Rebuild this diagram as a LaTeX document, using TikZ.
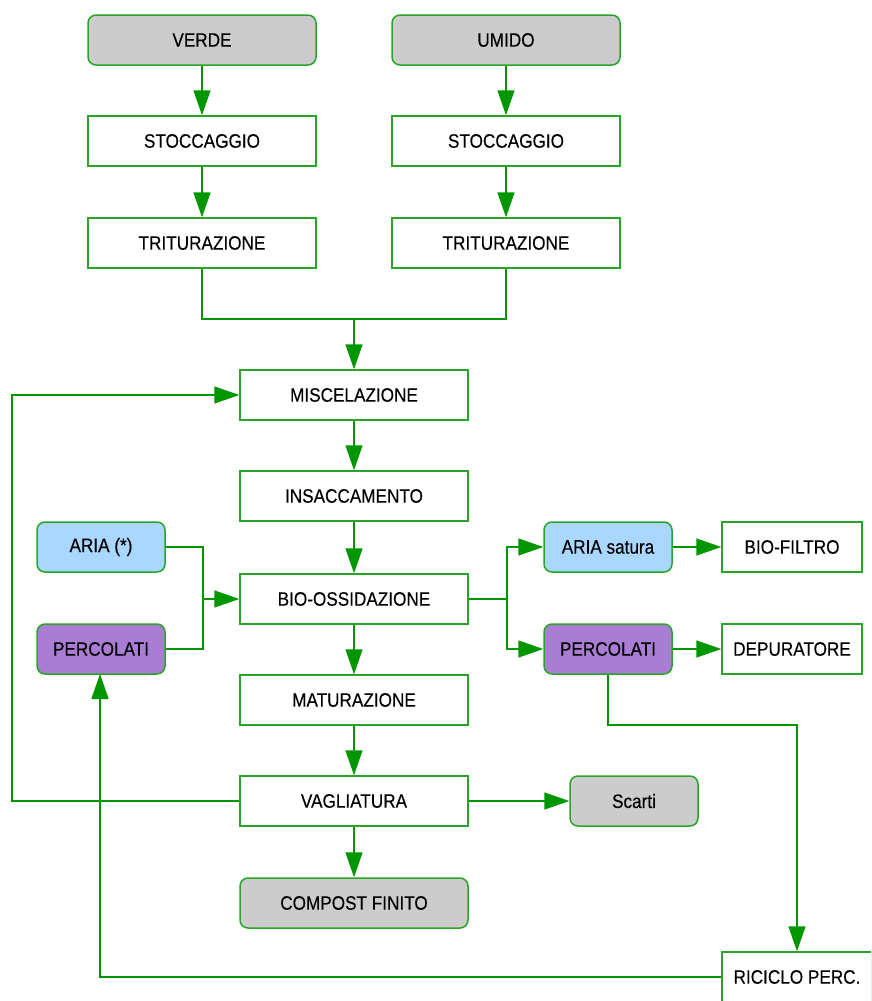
\documentclass[tikz,border=0pt]{standalone}
\usepackage{fontspec}
\setmainfont{Liberation Sans}
\newfontfamily\lblfont[FakeStretch=0.88,FakeBold=0.25]{Liberation Sans}
\usetikzlibrary{arrows.meta}
\definecolor{lnk}{RGB}{0,150,0}
\definecolor{brd}{RGB}{40,165,40}
\definecolor{grayf}{RGB}{204,204,204}
\definecolor{bluef}{RGB}{170,215,255}
\definecolor{purpf}{RGB}{170,125,212}
\tikzset{
  box/.style={draw=brd, line width=1.5pt, fill=white, minimum height=50pt, inner sep=0pt,
    font=\lblfont\fontsize{19.5}{21}\selectfont, text=black},
  wide/.style={box, minimum width=228pt},
  small/.style={box, minimum width=128pt},
  mid/.style={box, minimum width=140pt},
  rbox/.style={rounded corners=8pt},
  gbox/.style={rbox, fill=grayf},
  bbox/.style={rbox, fill=bluef},
  pbox/.style={rbox, fill=purpf},
  conn/.style={draw=lnk, line width=1.5pt},
  arr/.style={conn, -{Triangle[length=25pt,width=17pt]}},
}
\begin{document}
\begin{tikzpicture}[x=1pt,y=-1pt]
\useasboundingbox (0,0) rectangle (871,1001);
\clip (0,0) rectangle (871,1001);
\node[wide,gbox] (verde) at (202,40) {VERDE};
\node[wide,gbox] (umido) at (506,40) {UMIDO};
\node[wide] (stl) at (202,141) {STOCCAGGIO};
\node[wide] (str) at (506,141) {STOCCAGGIO};
\node[wide] (trl) at (202,243) {TRITURAZIONE};
\node[wide] (trr) at (506,243) {TRITURAZIONE};
\node[wide] (misc) at (354,395) {MISCELAZIONE};
\node[wide] (insa) at (354,496) {INSACCAMENTO};
\node[wide] (bio) at (354,599) {BIO-OSSIDAZIONE};
\node[wide] (matu) at (354,700) {MATURAZIONE};
\node[wide] (vagl) at (354,801) {VAGLIATURA};
\node[wide,gbox] (comp) at (354,903) {COMPOST FINITO};
\node[small,bbox] (aria) at (101,547) {ARIA (*)};
\node[small,pbox] (percl) at (101,649) {PERCOLATI};
\node[small,bbox] (arias) at (608,547) {ARIA satura};
\node[small,pbox] (percr) at (608,649) {PERCOLATI};
\node[mid] (biof) at (792,547) {BIO-FILTRO};
\node[mid] (depu) at (792,649) {DEPURATORE};
\node[small,gbox] (scarti) at (634,801) {Scarti};
\node[box, minimum width=150pt] (rici) at (797,977) {RICICLO PERC.};
\coordinate (joinT) at (354,319);
\coordinate (joinA) at (203,599);
\coordinate (joinB) at (507,599);
\coordinate (loopL) at (12,395);
\coordinate (recy) at (100,674);
\coordinate (turn) at (797,725);
\draw[arr] (verde) -- (stl);
\draw[arr] (umido) -- (str);
\draw[arr] (stl) -- (trl);
\draw[arr] (str) -- (trr);
\draw[conn] (trl.south) |- (joinT);
\draw[conn] (trr.south) |- (joinT);
\draw[arr] (joinT) -- (misc.north);
\draw[arr] (misc) -- (insa);
\draw[arr] (insa) -- (bio);
\draw[arr] (bio) -- (matu);
\draw[arr] (matu) -- (vagl);
\draw[arr] (vagl) -- (comp);
\draw[arr] (vagl) -- (scarti);
\draw[arr] (vagl.west) -| (loopL) -- (misc.west);
\draw[conn] (aria.east) -| (joinA);
\draw[conn] (percl.east) -| (joinA);
\draw[arr] (joinA) -- (bio.west);
\draw[conn] (bio.east) -- (joinB);
\draw[arr] (joinB) |- (arias.west);
\draw[arr] (joinB) |- (percr.west);
\draw[arr] (arias) -- (biof);
\draw[arr] (percr) -- (depu);
\draw[arr] (percr.south) |- (turn) -- (rici.north);
\draw[arr] (rici.west) -| (recy);
\end{tikzpicture}
\end{document}
